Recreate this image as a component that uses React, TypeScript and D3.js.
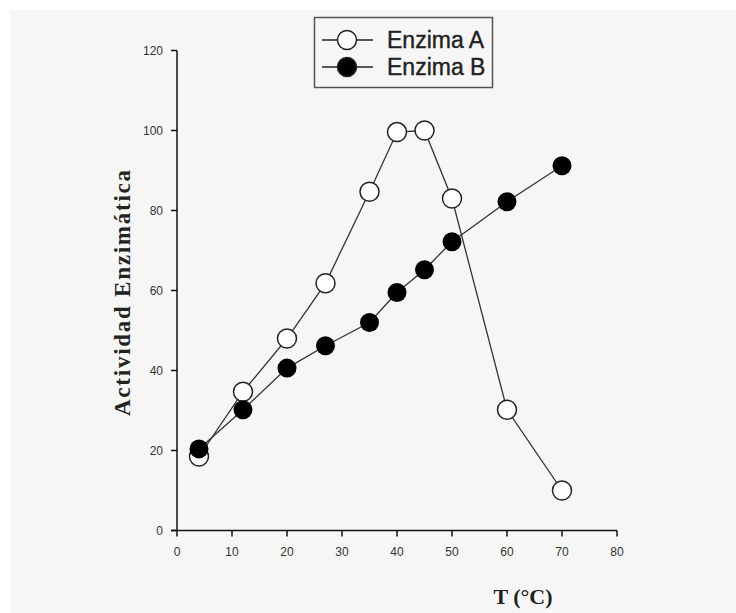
import * as d3 from "d3";
import React from "react";

// temperatures (°C) and activities
const temps = [4, 12, 20, 27, 35, 40, 45, 50, 60, 70];
const enzimaA = [18.5, 34.7, 48, 61.8, 84.7, 99.6, 100, 83, 30.2, 10];
const enzimaB = [20.4, 30.2, 40.6, 46.2, 52, 59.5, 65.2, 72.2, 82.2, 91.2];
const xTicks = [0, 10, 20, 30, 40, 50, 60, 70, 80];
const yTicks = [0, 20, 40, 60, 80, 100, 120];
const seriesNames = ["Enzima A", "Enzima B"];

const W = 736,
  H = 613;

function App() {
  const x = d3.scaleLinear().domain([0, 80]).range([177, 617]);
  const y = d3.scaleLinear().domain([0, 120]).range([530.5, 50.5]);

  const line = d3
    .line<[number, number]>()
    .x((d) => x(d[0]))
    .y((d) => y(d[1]));

  const ptsA: [number, number][] = temps.map((t, i) => [t, enzimaA[i]]);
  const ptsB: [number, number][] = temps.map((t, i) => [t, enzimaB[i]]);

  const tickFont = "Liberation Sans, Arial, sans-serif";
  const r = 9.5;

  return (
    <svg
      width={W}
      height={H}
      style={{ position: "absolute", left: 0, top: 0, display: "block" }}
    >
      <rect x={0} y={0} width={W} height={H} fill="#ffffff" />
      <rect x={10} y={10} width={W - 10} height={H - 10} fill="#f6f6f6" />

      {/* axes */}
      <g stroke="#111" strokeWidth={1.5} fill="none">
        <line x1={x(0)} x2={x(0)} y1={y(120)} y2={y(0)} />
        <line x1={x(0) - 6} x2={x(80)} y1={y(0)} y2={y(0)} />
        {yTicks.map((t) => (
          <line key={"yt" + t} x1={x(0) - 6} x2={x(0)} y1={y(t)} y2={y(t)} />
        ))}
        {xTicks.map((t) => (
          <line key={"xt" + t} x1={x(t)} x2={x(t)} y1={y(0)} y2={y(0) + 6} />
        ))}
      </g>
      <g fontFamily={tickFont} fontSize={12} fill="#333">
        {yTicks.map((t) => (
          <text key={"yl" + t} x={x(0) - 14} y={y(t)} dy="0.35em" textAnchor="end">
            {t}
          </text>
        ))}
        {xTicks.map((t) => (
          <text key={"xl" + t} x={x(t)} y={y(0) + 25} textAnchor="middle">
            {t}
          </text>
        ))}
      </g>

      {/* axis titles */}
      <text
        transform={`translate(130,${293}) rotate(-90)`}
        textAnchor="middle"
        fontFamily="Liberation Serif, Times New Roman, serif"
        fontWeight="bold"
        fontSize={23}
        textLength={246}
        lengthAdjust="spacing"
        fill="#222"
      >
        Actividad Enzimática
      </text>
      <text
        x={523}
        y={604}
        textAnchor="middle"
        fontFamily="Liberation Serif, Times New Roman, serif"
        fontWeight="bold"
        fontSize={22}
        fill="#222"
      >
        T (°C)
      </text>

      {/* series lines */}
      <path d={line(ptsA) || ""} fill="none" stroke="#333" strokeWidth={1.3} />
      <path d={line(ptsB) || ""} fill="none" stroke="#333" strokeWidth={1.3} />

      {/* markers: A drawn first, B on top */}
      {ptsA.map((p, i) => (
        <circle
          key={"a" + i}
          cx={x(p[0])}
          cy={y(p[1])}
          r={r}
          fill="#fff"
          stroke="#222"
          strokeWidth={1.5}
        />
      ))}
      {ptsB.map((p, i) => (
        <circle key={"b" + i} cx={x(p[0])} cy={y(p[1])} r={r} fill="#000" />
      ))}

      {/* legend */}
      <rect x={314.5} y={17.5} width={178} height={70} fill="#f6f6f6" stroke="#555" strokeWidth={1.5} />
      {seriesNames.map((name, i) => {
        const cy = 40 + i * 27;
        return (
          <g key={name}>
            <line x1={322} x2={373} y1={cy} y2={cy} stroke="#222" strokeWidth={1.5} />
            <circle
              cx={347}
              cy={cy}
              r={r}
              fill={i === 0 ? "#fff" : "#000"}
              stroke="#222"
              strokeWidth={1.5}
            />
            <text
              x={387}
              y={cy}
              dy="0.36em"
              fontFamily={tickFont}
              fontSize={23}
              stroke="#222"
              strokeWidth={0.4}
              fill="#222"
            >
              {name}
            </text>
          </g>
        );
      })}
    </svg>
  );
}

export default App;
